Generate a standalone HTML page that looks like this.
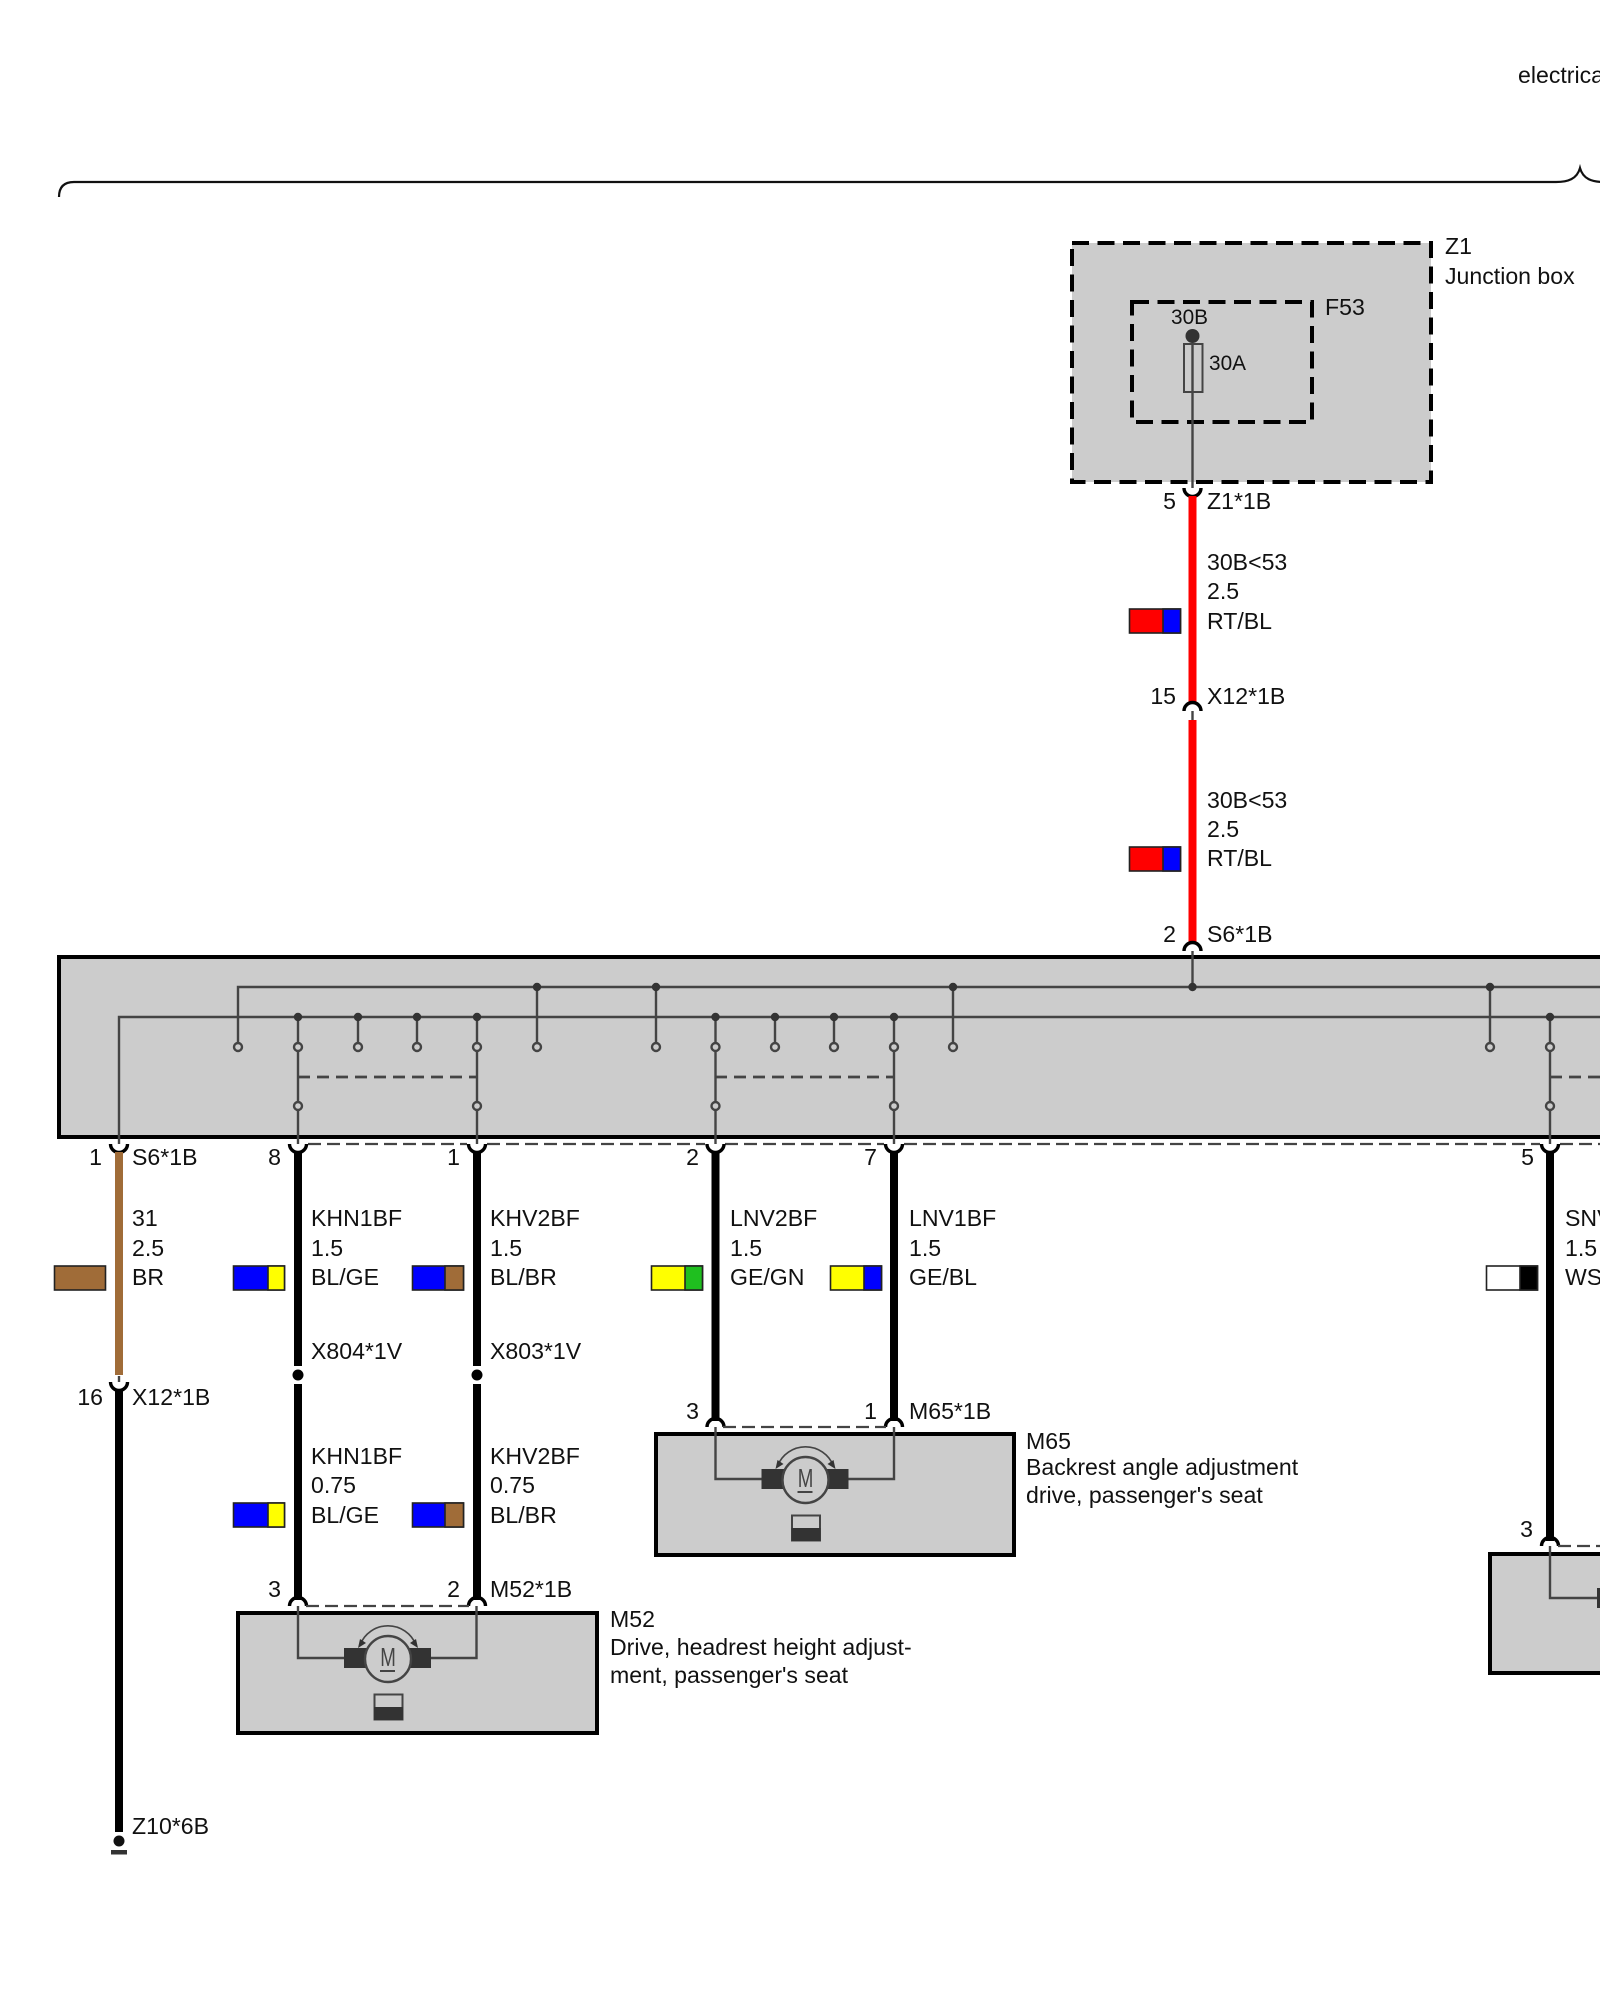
<!DOCTYPE html>
<html>
<head>
<meta charset="utf-8">
<style>
html,body{margin:0;padding:0;background:#fff}
svg{display:block}
text{font-family:"Liberation Sans",sans-serif;font-size:23.1px;fill:#111}
.e{text-anchor:end}
.s{font-size:20.8px}
.w{stroke:#000;stroke-width:8;fill:none}
.t{stroke:#444;stroke-width:2.4;fill:none}
.c{stroke:#000;stroke-width:3.4;fill:none}
.d{stroke:#444;stroke-width:2.2;fill:none;stroke-dasharray:13 6}
.dd{stroke:#444;stroke-width:2.8;fill:none;stroke-dasharray:12 7}
.o{fill:#ccc;stroke:#444;stroke-width:2.4}
.j{fill:#333}
.sw{stroke:#222;stroke-width:1.6}
</style>
</head>
<body>
<svg width="1600" height="2000" viewBox="0 0 1600 2000" xmlns="http://www.w3.org/2000/svg">
<rect width="1600" height="2000" fill="#fff"/>
<defs>
<g id="motor">
<path class="t" d="M298 1606V1658H345M476.500 1606V1658H431"/>
<rect x="344" y="1648" width="23" height="20" fill="#333"/>
<rect x="409" y="1648" width="22" height="20" fill="#333"/>
<circle cx="388" cy="1659" r="23" fill="#ccc" stroke="#444" stroke-width="2.400"/>
<text transform="translate(388 1666) scale(.72 1)" text-anchor="middle" style="font-size:26px;fill:#444">M</text>
<path d="M380 1671H395" stroke="#444" stroke-width="2"/>
<path d="M360 1645A30 30 0 0 1 416 1645" stroke="#444" stroke-width="1.600" fill="none"/>
<path d="M358 1648L360 1639L366 1643Z M418 1648L416 1639L410 1643Z" fill="#333"/>
<rect x="374.500" y="1694.500" width="28" height="25" fill="#ccc" stroke="#444" stroke-width="2"/>
<rect x="374" y="1707" width="29" height="13" fill="#333"/>
</g>
</defs>

<!-- top brace -->
<text x="1518" y="83">electrical</text>
<path d="M59 197C59 187 64 182 74 182H1556C1568 182 1577 179 1580 168C1583 179 1592 182 1604 182" stroke="#111" stroke-width="2.200" fill="none"/>

<!-- Z1 junction box -->
<rect x="1072" y="243" width="359" height="239" fill="#ccc"/>
<rect x="1072" y="243" width="359" height="239" fill="none" stroke="#000" stroke-width="4" stroke-dasharray="17 8.500"/>
<rect x="1132" y="302" width="180" height="120" fill="none" stroke="#000" stroke-width="4" stroke-dasharray="17 8.500"/>
<circle cx="1192.500" cy="336" r="7" fill="#333"/>
<rect x="1184" y="344" width="18.500" height="48" fill="none" stroke="#444" stroke-width="2"/>
<path class="t" d="M1192.500 344V488"/>
<text x="1445" y="254">Z1</text>
<text x="1445" y="284">Junction box</text>
<text x="1325" y="315">F53</text>
<text class="s" x="1171" y="324">30B</text>
<text class="s" x="1209" y="370">30A</text>

<!-- red wires -->
<path class="c" d="M1184 488A8.500 8.500 0 0 0 1201 488"/>
<text class="e" x="1176" y="509">5</text>
<text x="1207" y="509">Z1*1B</text>
<path d="M1192.500 496V704" stroke="#f00" stroke-width="8"/>
<text x="1207" y="570">30B&lt;53</text>
<text x="1207" y="599">2.5</text>
<text x="1207" y="629">RT/BL</text>
<rect class="sw" x="1129.500" y="609" width="51" height="24" fill="#f00"/>
<rect class="sw" x="1163" y="609" width="17.500" height="24" fill="#00f"/>
<text class="e" x="1176" y="704">15</text>
<text x="1207" y="704">X12*1B</text>
<path class="c" d="M1184 711A8.500 8.500 0 0 1 1201 711"/>
<path class="t" d="M1192.500 711V720"/>
<path d="M1192.500 720V944" stroke="#f00" stroke-width="8"/>
<text x="1207" y="808">30B&lt;53</text>
<text x="1207" y="837">2.5</text>
<text x="1207" y="866">RT/BL</text>
<rect class="sw" x="1129.500" y="847" width="51" height="24" fill="#f00"/>
<rect class="sw" x="1163" y="847" width="17.500" height="24" fill="#00f"/>
<text class="e" x="1176" y="942">2</text>
<text x="1207" y="942">S6*1B</text>
<path class="c" d="M1184 951A8.500 8.500 0 0 1 1201 951"/>

<!-- S6 main box -->
<rect x="59" y="957" width="1560" height="180" fill="#ccc" stroke="#000" stroke-width="4"/>
<path class="t" d="M1192.500 951V987"/>
<path class="t" d="M238 1047V987H1600"/>
<path class="t" d="M119 1144V1017H1600"/>
<path class="t" d="M298 1017V1144M358 1017V1047M417 1017V1047M477 1017V1144M537 987V1047M656 987V1047M715.500 1017V1144M775 1017V1047M834 1017V1047M894 1017V1144M953 987V1047M1490 987V1047M1550 1017V1144"/>
<path class="dd" d="M298 1077H477M715 1077H894M1550 1077H1600"/>
<g class="j">
<circle cx="537" cy="987" r="4.200"/><circle cx="656" cy="987" r="4.200"/><circle cx="953" cy="987" r="4.200"/><circle cx="1192.500" cy="987" r="4.200"/><circle cx="1490" cy="987" r="4.200"/>
<circle cx="298" cy="1017" r="4.200"/><circle cx="358" cy="1017" r="4.200"/><circle cx="417" cy="1017" r="4.200"/><circle cx="477" cy="1017" r="4.200"/>
<circle cx="715.500" cy="1017" r="4.200"/><circle cx="775" cy="1017" r="4.200"/><circle cx="834" cy="1017" r="4.200"/><circle cx="894" cy="1017" r="4.200"/><circle cx="1550" cy="1017" r="4.200"/>
</g>
<g class="o">
<circle cx="238" cy="1047" r="4"/><circle cx="298" cy="1047" r="4"/><circle cx="358" cy="1047" r="4"/><circle cx="417" cy="1047" r="4"/><circle cx="477" cy="1047" r="4"/><circle cx="537" cy="1047" r="4"/><circle cx="656" cy="1047" r="4"/><circle cx="715.500" cy="1047" r="4"/><circle cx="775" cy="1047" r="4"/><circle cx="834" cy="1047" r="4"/><circle cx="894" cy="1047" r="4"/><circle cx="953" cy="1047" r="4"/><circle cx="1490" cy="1047" r="4"/><circle cx="1550" cy="1047" r="4"/>
<circle cx="298" cy="1106" r="4"/><circle cx="477" cy="1106" r="4"/><circle cx="715.500" cy="1106" r="4"/><circle cx="894" cy="1106" r="4"/><circle cx="1550" cy="1106" r="4"/>
</g>

<!-- dashed shield below box -->
<path class="d" d="M308 1144H467M487 1144H705M725 1144H884M904 1144H1540M1560 1144H1600"/>

<!-- cups at S6 underside -->
<path class="c" d="M110.500 1144A8.500 8.500 0 0 0 127.500 1144M289.500 1144A8.500 8.500 0 0 0 306.500 1144M468.500 1144A8.500 8.500 0 0 0 485.500 1144M707 1144A8.500 8.500 0 0 0 724 1144M885.500 1144A8.500 8.500 0 0 0 902.500 1144M1541.500 1144A8.500 8.500 0 0 0 1558.500 1144"/>

<!-- pin labels -->
<text class="e" x="102" y="1165">1</text><text x="132" y="1165">S6*1B</text>
<text class="e" x="281" y="1165">8</text>
<text class="e" x="460" y="1165">1</text>
<text class="e" x="699" y="1165">2</text>
<text class="e" x="877" y="1165">7</text>
<text class="e" x="1534" y="1165">5</text>

<!-- brown / ground wire -->
<path d="M119 1152V1375" stroke="#a06c38" stroke-width="8"/>
<text x="132" y="1226">31</text><text x="132" y="1256">2.5</text><text x="132" y="1285">BR</text>
<rect class="sw" x="54.500" y="1266" width="51" height="24" fill="#a06c38"/>
<path class="t" d="M119 1376V1382"/>
<path class="c" d="M110.500 1382A8.500 8.500 0 0 0 127.500 1382"/>
<text class="e" x="103" y="1405">16</text><text x="132" y="1405">X12*1B</text>
<path class="w" d="M119 1390V1832"/>
<circle cx="119" cy="1841" r="5.500" fill="#111"/>
<rect x="111" y="1850" width="16" height="4.500" fill="#333"/>
<text x="132" y="1834">Z10*6B</text>

<!-- KHN wire -->
<path class="w" d="M298 1152V1366M298 1384V1600"/>
<circle cx="298" cy="1375" r="5.500" fill="#000"/>
<text x="311" y="1226">KHN1BF</text><text x="311" y="1256">1.5</text><text x="311" y="1285">BL/GE</text>
<rect class="sw" x="233.500" y="1266" width="51" height="24" fill="#00f"/><rect class="sw" x="268" y="1266" width="16.500" height="24" fill="#ff0"/>
<text x="311" y="1359">X804*1V</text>
<text x="311" y="1464">KHN1BF</text><text x="311" y="1493">0.75</text><text x="311" y="1523">BL/GE</text>
<rect class="sw" x="233.500" y="1503" width="51" height="24" fill="#00f"/><rect class="sw" x="268" y="1503" width="16.500" height="24" fill="#ff0"/>

<!-- KHV wire -->
<path class="w" d="M477 1152V1366M477 1384V1600"/>
<circle cx="477" cy="1375" r="5.500" fill="#000"/>
<text x="490" y="1226">KHV2BF</text><text x="490" y="1256">1.5</text><text x="490" y="1285">BL/BR</text>
<rect class="sw" x="412.500" y="1266" width="51" height="24" fill="#00f"/><rect class="sw" x="445" y="1266" width="18.500" height="24" fill="#a06c38"/>
<text x="490" y="1359">X803*1V</text>
<text x="490" y="1464">KHV2BF</text><text x="490" y="1493">0.75</text><text x="490" y="1523">BL/BR</text>
<rect class="sw" x="412.500" y="1503" width="51" height="24" fill="#00f"/><rect class="sw" x="445" y="1503" width="18.500" height="24" fill="#a06c38"/>

<!-- LNV wires -->
<path class="w" d="M715.500 1152V1421"/>
<text x="730" y="1226">LNV2BF</text><text x="730" y="1256">1.5</text><text x="730" y="1285">GE/GN</text>
<rect class="sw" x="651.500" y="1266" width="51" height="24" fill="#ff0"/><rect class="sw" x="685" y="1266" width="17.500" height="24" fill="#1fbf1f"/>
<path class="w" d="M894 1152V1421"/>
<text x="909" y="1226">LNV1BF</text><text x="909" y="1256">1.5</text><text x="909" y="1285">GE/BL</text>
<rect class="sw" x="830.500" y="1266" width="51" height="24" fill="#ff0"/><rect class="sw" x="864" y="1266" width="17.500" height="24" fill="#00f"/>

<!-- SNV wire -->
<path class="w" d="M1550 1152V1541"/>
<text x="1565" y="1226">SNV1BF</text><text x="1565" y="1256">1.5</text><text x="1565" y="1285">WS/SW</text>
<rect class="sw" x="1486.500" y="1266" width="51" height="24" fill="#fff"/><rect class="sw" x="1520" y="1266" width="17.500" height="24" fill="#000"/>

<!-- M52 -->
<rect x="238" y="1613" width="359" height="120" fill="#ccc" stroke="#000" stroke-width="4"/>
<path class="c" d="M289.500 1606A8.500 8.500 0 0 1 306.500 1606M468.500 1606A8.500 8.500 0 0 1 485.500 1606"/>
<path class="d" d="M306 1606H469"/>
<use href="#motor"/>
<text class="e" x="281" y="1597">3</text>
<text class="e" x="460" y="1597">2</text>
<text x="490" y="1597">M52*1B</text>
<text x="610" y="1627">M52</text>
<text x="610" y="1655">Drive, headrest height adjust-</text>
<text x="610" y="1683">ment, passenger's seat</text>

<!-- M65 -->
<rect x="656" y="1434" width="358" height="121" fill="#ccc" stroke="#000" stroke-width="4"/>
<path class="c" d="M707 1427A8.500 8.500 0 0 1 724 1427M885.500 1427A8.500 8.500 0 0 1 902.500 1427"/>
<path class="d" d="M723 1427H886"/>
<use href="#motor" transform="translate(417.500 -179)"/>
<text class="e" x="699" y="1419">3</text>
<text class="e" x="877" y="1419">1</text>
<text x="909" y="1419">M65*1B</text>
<text x="1026" y="1449">M65</text>
<text x="1026" y="1475">Backrest angle adjustment</text>
<text x="1026" y="1503">drive, passenger's seat</text>

<!-- right module -->
<rect x="1490" y="1554" width="130" height="119" fill="#ccc" stroke="#000" stroke-width="4"/>
<path class="c" d="M1541.500 1546A8.500 8.500 0 0 1 1558.500 1546"/>
<path class="d" d="M1558 1546H1600"/>
<path class="t" d="M1550 1546V1598H1598"/>
<rect x="1597" y="1588" width="3" height="20" fill="#333"/>
<text class="e" x="1533" y="1537">3</text>
</svg>
</body>
</html>
